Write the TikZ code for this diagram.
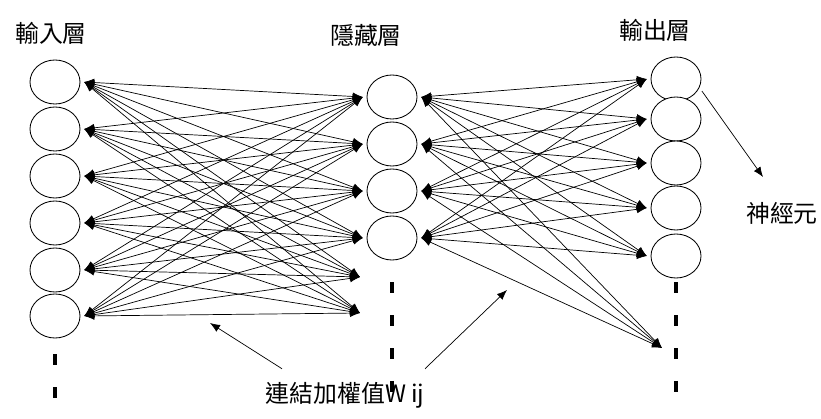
\documentclass[tikz,border=0pt]{standalone}
\usepackage{fontspec}
\newfontfamily\cjk{Noto Sans CJK TC}
\usetikzlibrary{shapes.geometric,arrows.meta}
\tikzset{
  neuron/.style={ellipse, draw=black, fill=white, line width=0.6pt,
    minimum width=1.25cm, minimum height=1.1cm, inner sep=0pt, outer sep=3pt},
  link/.style={{Latex[length=2.5mm,width=2mm]}-{Latex[length=2.5mm,width=2mm]}, line width=0.5pt},
  pointer/.style={-{Latex[length=2.5mm,width=2mm]}, line width=0.5pt},
  moredots/.style={line width=2.2pt, dash pattern=on 7.8pt off 15.6pt},
  lbl/.style={font=\cjk\fontsize{17}{20}\selectfont, inner sep=0pt}
}
\begin{document}
\begin{tikzpicture}[x=0.025cm,y=-0.025cm]
\useasboundingbox (0,0) rectangle (821,419);
% the three layers
\foreach \n/\y in {1/82,2/129,3/176,4/223,5/270,6/316}
  \node[neuron] (in\n) at (55,\y) {};
\foreach \n/\y in {1/97,2/144,3/191,4/238}
  \node[neuron] (hid\n) at (392,\y) {};
\foreach \n/\y in {1/79,2/119,3/163,4/208,5/256}
  \node[neuron] (out\n) at (676,\y) {};
% ends of the links to the neurons left out
\coordinate (hmore1) at (360,277);
\coordinate (hmore2) at (360,313);
\coordinate (omore) at (662,348);
% weights
\foreach \i in {1,...,6}{
  \foreach \j in {1,...,4}
    \draw[link] (in\i.east) -- (hid\j.west);
  \draw[link] (in\i.east) -- (hmore1);
  \draw[link] (in\i.east) -- (hmore2);
}
\foreach \j in {1,...,4}{
  \foreach \k in {1,...,5}
    \draw[link] (hid\j.east) -- (out\k.west);
  \draw[link] (hid\j.east) -- (omore);
}
% more neurons below
\draw[moredots] ([yshift=-0.3cm]in6.south) -- ++(0,75);
\draw[moredots] ([yshift=-0.45cm]hid4.south) -- ++(0,110);
\draw[moredots] (out5.south) -- ++(0,110);
% labels
\node[lbl] (inlabel) at (51,33) {輸入層};
\node[lbl] (hidlabel) at (366,35) {隱藏層};
\node[lbl] (outlabel) at (655,30) {輸出層};
\node[lbl] (neuronlabel) at (782,213) {神經元};
\node[lbl] (weight) at (345,395) {連結加權值W ij};
\coordinate (neuronpt) at (763,177);
\coordinate (wleft) at (210,323);
\coordinate (wright) at (507,290);
\draw[pointer] (out1.-25) -- (neuronpt);
\draw[pointer] ([shift={(-63,-13)}]weight.north) -- (wleft);
\draw[pointer] ([shift={(80,-13)}]weight.north) -- (wright);
\end{tikzpicture}
\end{document}
